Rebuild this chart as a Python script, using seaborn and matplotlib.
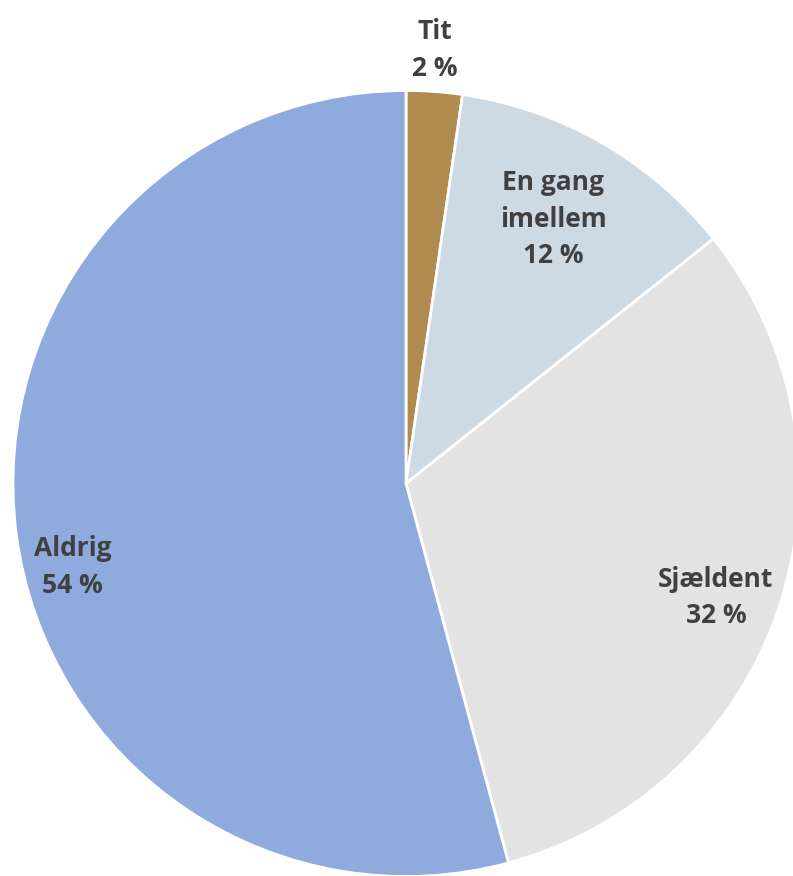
import numpy as np
import matplotlib
matplotlib.use("Agg")
import matplotlib.pyplot as plt
import seaborn as sns

categories = ["Tit", "En gang\nimellem", "Sjældent", "Aldrig"]
values = [2.3, 12.0, 31.5, 54.2]
pct_labels = ["2 %", "12 %", "32 %", "54 %"]
colors = ["#B08B50", "#CDD9E3", "#E3E3E3", "#8FAADC"]

sns.set_theme(style="white")
plt.rcParams['font.family'] = ['Open Sans', 'DejaVu Sans']

W, H = 793, 876
fig = plt.figure(figsize=(W / 100, H / 100), dpi=100)
ax = fig.add_axes([0, 0, 1, 1])
R = 393.0
cx, cy = 406.0, 483.5

wedges, _ = ax.pie(values, colors=colors, startangle=90, counterclock=False,
                   radius=1.0, center=(0, 0), frame=True,
                   wedgeprops=dict(edgecolor="white", linewidth=2))
ax.set_xlim((0 - cx) / R, (W - cx) / R)
ax.set_ylim((cy - H) / R, (cy - 0) / R)
ax.set_aspect("equal")
ax.axis("off")

# label placement: radial distance and angular offset from wedge middle
label_r = [1.105, 0.77, 0.84, 0.875]
label_dang = [0.3, 0.8, -2.0, 6.5]
for w, cat, pct, r, da in zip(wedges, categories, pct_labels, label_r, label_dang):
    mid = (w.theta1 + w.theta2) / 2 + da
    x = r * np.cos(np.radians(mid))
    y = r * np.sin(np.radians(mid))
    ax.text(x, y, f"{cat}\n{pct}", ha="center", va="center", fontsize=19,
            fontweight="bold", color="#404040", linespacing=1.45)

fig.savefig("out.png", dpi=100)
